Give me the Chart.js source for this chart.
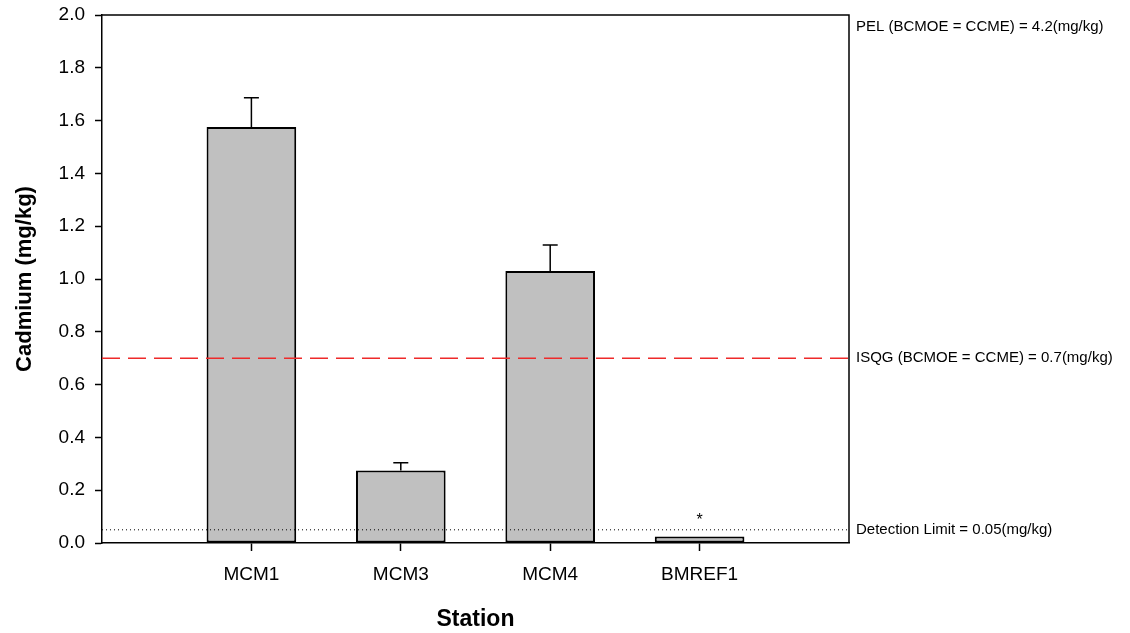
<!DOCTYPE html>
<html>
<head>
<meta charset="utf-8">
<script src="https://cdn.jsdelivr.net/npm/chart.js@4.4.1/dist/chart.umd.min.js"></script>
<style>
  html, body { margin: 0; padding: 0; background: #fff; }
</style>
</head>
<body>
<canvas id="cdChart" width="1130" height="633"></canvas>
<script>
// stations and measured cadmium (mg/kg)
var stations = ['MCM1', 'MCM3', 'MCM4', 'BMREF1'];
var cadmium = [1.576, 0.275, 1.030, 0.025];
var cadmiumErr = [0.111, 0.029, 0.099, null];
var belowDetection = [false, false, false, true];

// guideline levels
var isqg = 0.7;
var detectionLimit = 0.05;
var yTicks = [0, 0.2, 0.4, 0.6, 0.8, 1.0, 1.2, 1.4, 1.6, 1.8, 2.0];

var FONT = "'Liberation Sans', Arial, sans-serif";

// empty slot on each side so the bars sit in from the frame
var labels = [''].concat(stations, ['']);
var values = [null].concat(cadmium, [null]);

var extrasPlugin = {
  id: 'extras',
  afterDatasetsDraw: function(chart) {
    var ctx = chart.ctx;
    var area = chart.chartArea;
    var y = chart.scales.y;
    var meta = chart.getDatasetMeta(0);

    ctx.save();
    // error bars (upper only)
    ctx.strokeStyle = '#000';
    ctx.lineWidth = 1.5;
    for (var i = 0; i < stations.length; i++) {
      if (cadmiumErr[i] == null) continue;
      var bar = meta.data[i + 1];
      var yTop = y.getPixelForValue(cadmium[i] + cadmiumErr[i]);
      ctx.beginPath();
      ctx.moveTo(bar.x, bar.y);
      ctx.lineTo(bar.x, yTop);
      ctx.moveTo(bar.x - 7.5, yTop);
      ctx.lineTo(bar.x + 7.5, yTop);
      ctx.stroke();
    }

    // asterisk for below detection
    ctx.fillStyle = '#000';
    ctx.font = '16px ' + FONT;
    ctx.textAlign = 'center';
    ctx.textBaseline = 'middle';
    for (var j = 0; j < stations.length; j++) {
      if (!belowDetection[j]) continue;
      var b = meta.data[j + 1];
      ctx.fillText('*', b.x, y.getPixelForValue(0.085));
    }

    // ISQG red dashed line
    var yI = y.getPixelForValue(isqg);
    ctx.strokeStyle = '#ee2a2a';
    ctx.lineWidth = 1.5;
    ctx.setLineDash([18, 8]);
    ctx.beginPath();
    ctx.moveTo(area.left, yI);
    ctx.lineTo(area.right, yI);
    ctx.stroke();

    // detection limit dotted line
    var yD = y.getPixelForValue(detectionLimit);
    ctx.strokeStyle = '#000';
    ctx.lineWidth = 1;
    ctx.setLineDash([1, 3]);
    ctx.beginPath();
    ctx.moveTo(area.left, yD);
    ctx.lineTo(area.right, yD);
    ctx.stroke();
    ctx.setLineDash([]);

    // frame top + right
    ctx.lineWidth = 1.5;
    ctx.beginPath();
    ctx.moveTo(area.left, area.top);
    ctx.lineTo(area.right, area.top);
    ctx.lineTo(area.right, area.bottom);
    ctx.stroke();

    // right-hand labels
    ctx.font = '15px ' + FONT;
    ctx.textAlign = 'left';
    ctx.textBaseline = 'middle';
    var tx = area.right + 7;
    ctx.fillText('PEL (BCMOE = CCME) = 4.2(mg/kg)', tx, area.top + 12);
    ctx.fillText('ISQG (BCMOE = CCME) = 0.7(mg/kg)', tx, yI);
    ctx.fillText('Detection Limit = 0.05(mg/kg)', tx, yD);
    ctx.restore();
  }
};

var ctx = document.getElementById('cdChart').getContext('2d');
var cdChart = new Chart(ctx, {
  type: 'bar',
  data: {
    labels: labels,
    datasets: [{
      data: values,
      backgroundColor: '#c0c0c0',
      borderColor: '#000',
      borderWidth: 2,
      borderSkipped: false,
      categoryPercentage: 0.6,
      barPercentage: 1.0
    }]
  },
  options: {
    responsive: false,
    animation: false,
    devicePixelRatio: 1,
    layout: { padding: { top: 15, right: 281, left: 0, bottom: 0 } },
    plugins: {
      legend: { display: false },
      tooltip: { enabled: false }
    },
    scales: {
      x: {
        type: 'category',
        offset: false,
        grid: {
          offset: false,
          drawOnChartArea: false,
          tickLength: 8,
          tickWidth: 1.5,
          tickColor: function(c) { return (c.tick && c.tick.label) ? '#000' : 'rgba(0,0,0,0)'; }
        },
        border: { color: '#000', width: 1.5 },
        ticks: { color: '#000', font: { family: FONT, size: 19 }, padding: 12, autoSkip: false, maxRotation: 0 },
        title: {
          display: true,
          text: 'Station',
          color: '#000',
          font: { family: FONT, size: 23, weight: 'bold' },
          padding: { top: 0, bottom: 0 }
        },
        afterFit: function(s) { s.height = 90; s.paddingLeft = 0; s.paddingRight = 0; }
      },
      y: {
        min: 0,
        max: 2,
        afterBuildTicks: function(s) { s.ticks = yTicks.map(function(v) { return { value: v }; }); },
        grid: { drawOnChartArea: false, tickLength: 7, tickWidth: 1.5, color: '#000' },
        border: { color: '#000', width: 1.5 },
        ticks: {
          color: '#000',
          font: { family: FONT, size: 19 },
          padding: 10,
          callback: function(v) { return Number(v).toFixed(1); }
        },
        title: {
          display: true,
          text: 'Cadmium (mg/kg)',
          color: '#000',
          font: { family: FONT, size: 22, weight: 'bold' },
          padding: { top: 12, bottom: 4 }
        },
        afterFit: function(s) { s.width = 102; s.paddingTop = 0; s.paddingBottom = 0; }
      }
    }
  },
  plugins: [extrasPlugin]
});
</script>
</body>
</html>
